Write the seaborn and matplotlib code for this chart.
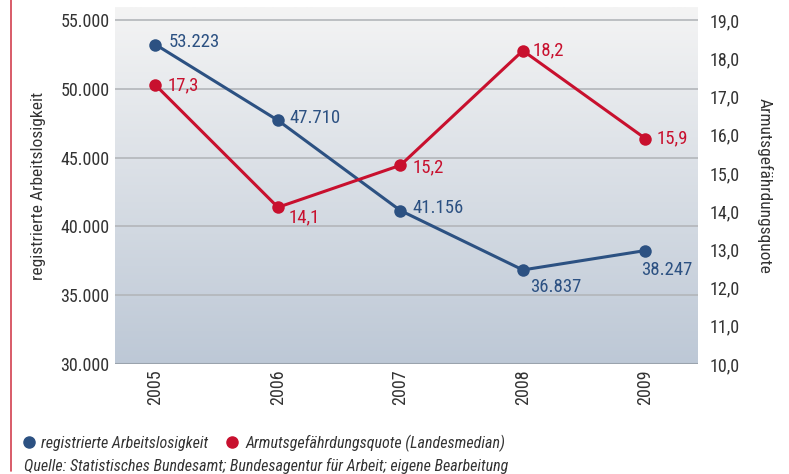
import numpy as np
import pandas as pd
import matplotlib
matplotlib.use("Agg")
import matplotlib.pyplot as plt
from matplotlib import font_manager
from matplotlib.lines import Line2D
import seaborn as sns

# ------------------------------------------------------------
# DATA
# ------------------------------------------------------------
years = ["2005", "2006", "2007", "2008", "2009"]
arbeitslose = [53223, 47710, 41156, 36837, 38247]
armutsquote = [17.3, 14.1, 15.2, 18.2, 15.9]

left_ticks = [30000, 35000, 40000, 45000, 50000, 55000]
right_ticks = [10, 11, 12, 13, 14, 15, 16, 17, 18, 19]

BLUE = "#2c5182"
RED = "#c8102e"
TXT = "#333333"

sns.set_theme(style="white")
installed = {f.name for f in font_manager.fontManager.ttflist}
family = [f for f in ["Liberation Sans Narrow", "Roboto Condensed", "Lato"] if f in installed]
plt.rcParams["font.family"] = family + ["DejaVu Sans"]


def de_thousands(v):
    return f"{int(v):,}".replace(",", ".")


def de_decimal(v):
    return f"{v:.1f}".replace(".", ",")


df = pd.DataFrame({"Jahr": years, "idx": range(len(years)),
                   "alo": arbeitslose, "quote": armutsquote})

fig = plt.figure(figsize=(7.89, 4.74), dpi=100)
ax = fig.add_axes([0.1458, 0.2321, 0.7389, 0.7531])
ax2 = ax.twinx()

# gradient background (light on top, blue-grey at bottom)
grad = np.linspace(0, 1, 256).reshape(-1, 1)
cmap = matplotlib.colors.LinearSegmentedColormap.from_list("bg", ["#f4f4f4", "#bdc8d6"])
ax.imshow(grad, aspect="auto", cmap=cmap, extent=(-0.33, 4.43, 30000, 55950),
          origin="upper", zorder=0)

ax.set_xlim(-0.33, 4.43)
ax.set_ylim(30000, 55950)
ax2.set_ylim(10, 10 + 25950 / 25000 * 9)

for t in left_ticks[1:]:
    ax.axhline(t, color="#b3b6ba", lw=1.2, zorder=1)
ax.axhline(30000, color="#9aa3ad", lw=1.5, zorder=1)

sns.lineplot(data=df, x="idx", y="alo", ax=ax, color=BLUE, lw=2.2,
             marker="o", markersize=9, markeredgewidth=0, zorder=3)
sns.lineplot(data=df, x="idx", y="quote", ax=ax2, color=RED, lw=2.2,
             marker="o", markersize=9, markeredgewidth=0, zorder=3)

# value labels
blue_off = [(9.5, 2), (8, 1.5), (8.5, 2), (5, -12), (-3, -14)]
for i, (v, off) in enumerate(zip(arbeitslose, blue_off)):
    ax.annotate(de_thousands(v), (i, v), xytext=off, textcoords="offset points",
                ha="left", va="center", color=BLUE, fontsize=13.5)
red_off = [(9, 0), (8, -7), (8.5, -1.5), (7, 0.5), (8, 0)]
for i, (v, off) in enumerate(zip(armutsquote, red_off)):
    ax2.annotate(de_decimal(v), (i, v), xytext=off, textcoords="offset points",
                 ha="left", va="center", color=RED, fontsize=13.5)

ax.set_xticks(range(len(years)))
ax.set_xticklabels(years, rotation=90, fontsize=13, color=TXT)
ax.set_yticks(left_ticks)
ax.set_yticklabels([de_thousands(t) for t in left_ticks], fontsize=13, color=TXT)
ax2.set_yticks(right_ticks)
ax2.set_yticklabels([de_decimal(t) for t in right_ticks], fontsize=13, color=TXT)
ax.tick_params(axis="both", length=0, pad=4)
ax2.tick_params(axis="y", length=0, pad=8)

ax.set_xlabel("")
ax.set_ylabel("registrierte Arbeitslosigkeit", fontsize=12.5, color=TXT, labelpad=10)
ax2.set_ylabel("Armutsgefährdungsquote", fontsize=12.5, color=TXT, rotation=270,
               labelpad=24)

for a in (ax, ax2):
    for s in a.spines.values():
        s.set_visible(False)
ax2.patch.set_visible(False)

# legend
handles = [
    Line2D([], [], ls="", marker="o", color=BLUE, markersize=8,
           label="registrierte Arbeitslosigkeit"),
    Line2D([], [], ls="", marker="o", color=RED, markersize=8,
           label="Armutsgefährdungsquote (Landesmedian)"),
]
fig.legend(handles=handles, loc="lower left", bbox_to_anchor=(0.026, 0.047),
           ncol=2, frameon=False, handletextpad=0.3, columnspacing=1.0,
           prop={"style": "italic", "size": 11.5}, labelcolor=TXT,
           handlelength=1.0, borderaxespad=0, borderpad=0)

fig.text(0.031, 0.007, "Quelle: Statistisches Bundesamt; Bundesagentur für Arbeit; eigene Bearbeitung",
         fontsize=11.5, style="italic", color=TXT)

# red frame line on the left
fig.add_artist(Line2D([0.014, 0.014], [0.006, 1.0], color="#d2404f", lw=1.2))

fig.savefig("out.png", dpi=100)
